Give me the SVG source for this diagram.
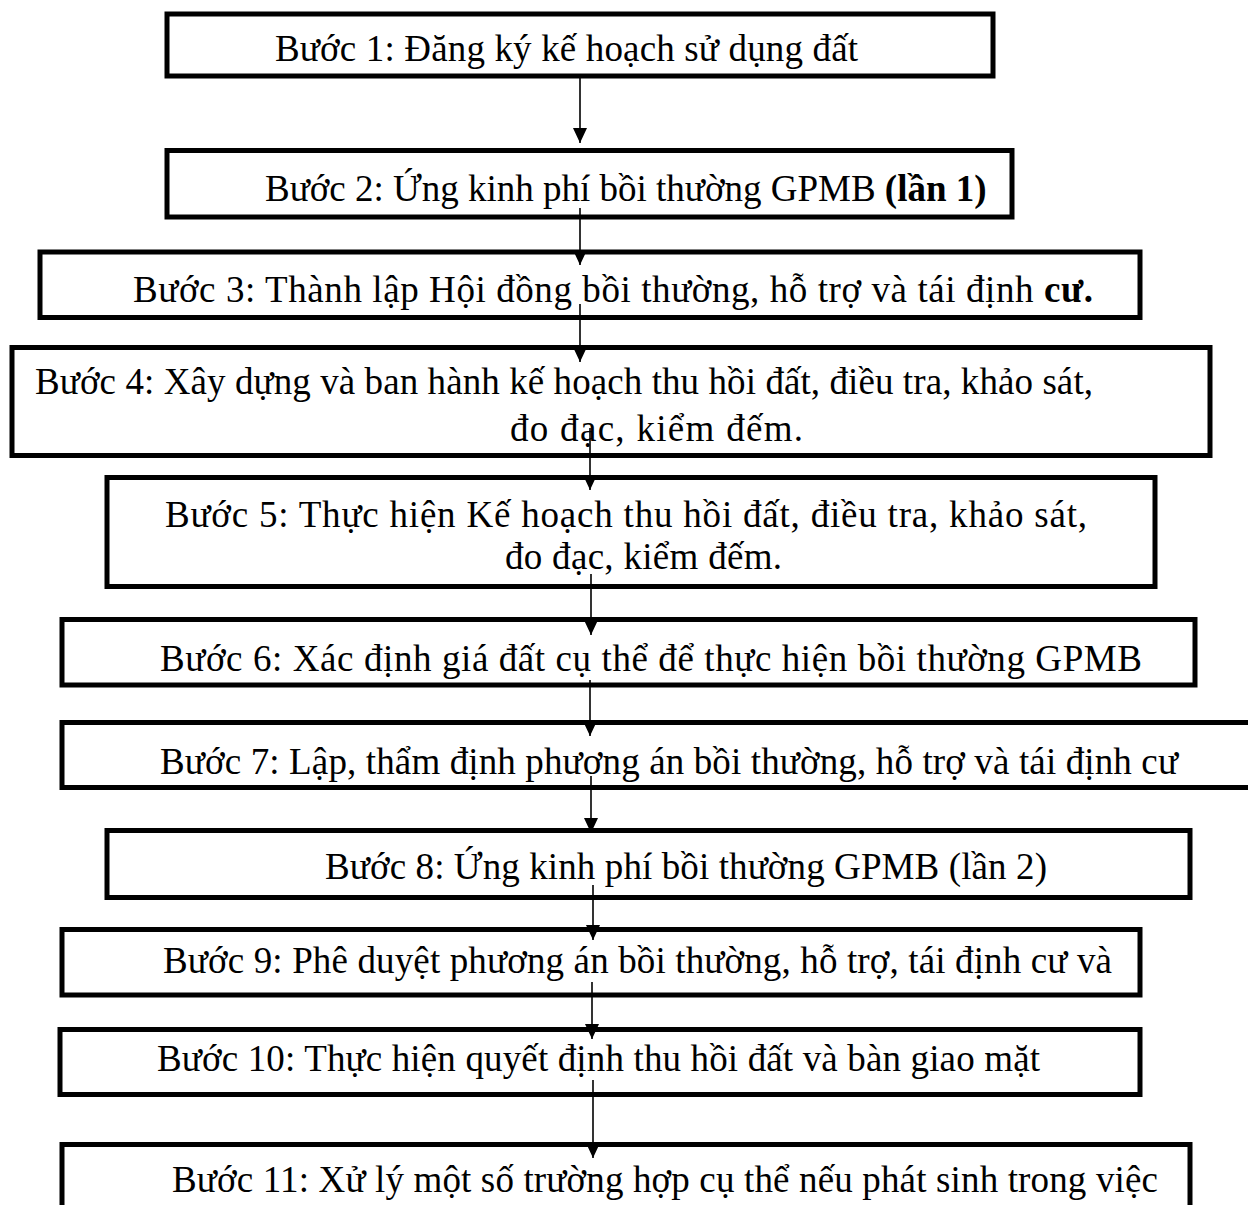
<svg xmlns="http://www.w3.org/2000/svg" width="1248" height="1205" viewBox="0 0 1248 1205">
<style>
.box{fill:#fff;stroke:#000;stroke-width:5}
.t{font-family:"Liberation Serif","Times New Roman",serif;font-size:37px;fill:#000}
.b{font-weight:bold}
.c{stroke:#000;stroke-width:1.6;fill:none;marker-end:url(#ah)}
</style>
<defs>
<marker id="ah" markerUnits="userSpaceOnUse" markerWidth="15" markerHeight="15" refX="15" refY="7" orient="auto">
<path d="M0,0 L15,7 L0,14 z" fill="#000"/>
</marker>
</defs>
<rect width="1248" height="1205" fill="#fff"/>
<g id="nodes">
<g id="step1"><rect class="box" x="167" y="14" width="826" height="62"/><text class="t" x="275" y="61" textLength="583">Bước 1: Đăng ký kế hoạch sử dụng đất</text></g>
<g id="step2"><rect class="box" x="167" y="150.5" width="845" height="66.5"/><text class="t" x="265" y="201">Bước 2: Ứng kinh phí bồi thường GPMB <tspan class="b">(lần 1)</tspan></text></g>
<g id="step3"><rect class="box" x="40" y="252" width="1100" height="65.5"/><text class="t" x="133" y="302" textLength="960">Bước 3: Thành lập Hội đồng bồi thường, hỗ trợ và tái định <tspan class="b">cư.</tspan></text></g>
<g id="step4"><rect class="box" x="12" y="347.5" width="1198" height="108"/><text class="t" x="35" y="394" textLength="1058">Bước 4: Xây dựng và ban hành kế hoạch thu hồi đất, điều tra, khảo sát,</text><text class="t" x="510" y="441" textLength="293">đo đạc, kiểm đếm.</text></g>
<g id="step5"><rect class="box" x="107" y="477.5" width="1048" height="109"/><text class="t" x="165" y="527" textLength="922">Bước 5: Thực hiện Kế hoạch thu hồi đất, điều tra, khảo sát,</text><text class="t" x="505" y="569" textLength="277">đo đạc, kiểm đếm.</text></g>
<g id="step6"><rect class="box" x="62" y="619.5" width="1133" height="65.5"/><text class="t" x="160" y="671" textLength="982">Bước 6: Xác định giá đất cụ thể để thực hiện bồi thường GPMB</text></g>
<g id="step7"><rect class="box" x="62" y="722.5" width="1200" height="65"/><text class="t" x="160" y="774" textLength="1018">Bước 7: Lập, thẩm định phương án bồi thường, hỗ trợ và tái định cư</text></g>
<g id="step8"><rect class="box" x="107" y="830.5" width="1083" height="67"/><text class="t" x="325" y="879" textLength="722">Bước 8: Ứng kinh phí bồi thường GPMB (lần 2)</text></g>
<g id="step9"><rect class="box" x="62" y="929.5" width="1078" height="65.5"/><text class="t" x="163" y="973" textLength="949">Bước 9: Phê duyệt phương án bồi thường, hỗ trợ, tái định cư và</text></g>
<g id="step10"><rect class="box" x="60" y="1029.5" width="1080" height="65"/><text class="t" x="157" y="1071" textLength="883">Bước 10: Thực hiện quyết định thu hồi đất và bàn giao mặt</text></g>
<g id="step11"><rect class="box" x="62" y="1144.5" width="1128" height="80"/><text class="t" x="172" y="1192" textLength="986">Bước 11: Xử lý một số trường hợp cụ thể nếu phát sinh trong việc</text></g>
</g>
<g id="connectors">
<line class="c" x1="580" y1="78" x2="580" y2="143"/>
<line class="c" x1="580" y1="208" x2="580" y2="265"/>
<line class="c" x1="580" y1="304" x2="580" y2="362"/>
<line class="c" x1="590" y1="428" x2="590" y2="490"/>
<line class="c" x1="591" y1="574" x2="591" y2="635"/>
<line class="c" x1="590" y1="680" x2="590" y2="736"/>
<line class="c" x1="591" y1="776" x2="591" y2="833"/>
<line class="c" x1="593" y1="885" x2="593" y2="940"/>
<line class="c" x1="592" y1="982" x2="592" y2="1039"/>
<line class="c" x1="593" y1="1080" x2="593" y2="1158"/>
</g>
</svg>
